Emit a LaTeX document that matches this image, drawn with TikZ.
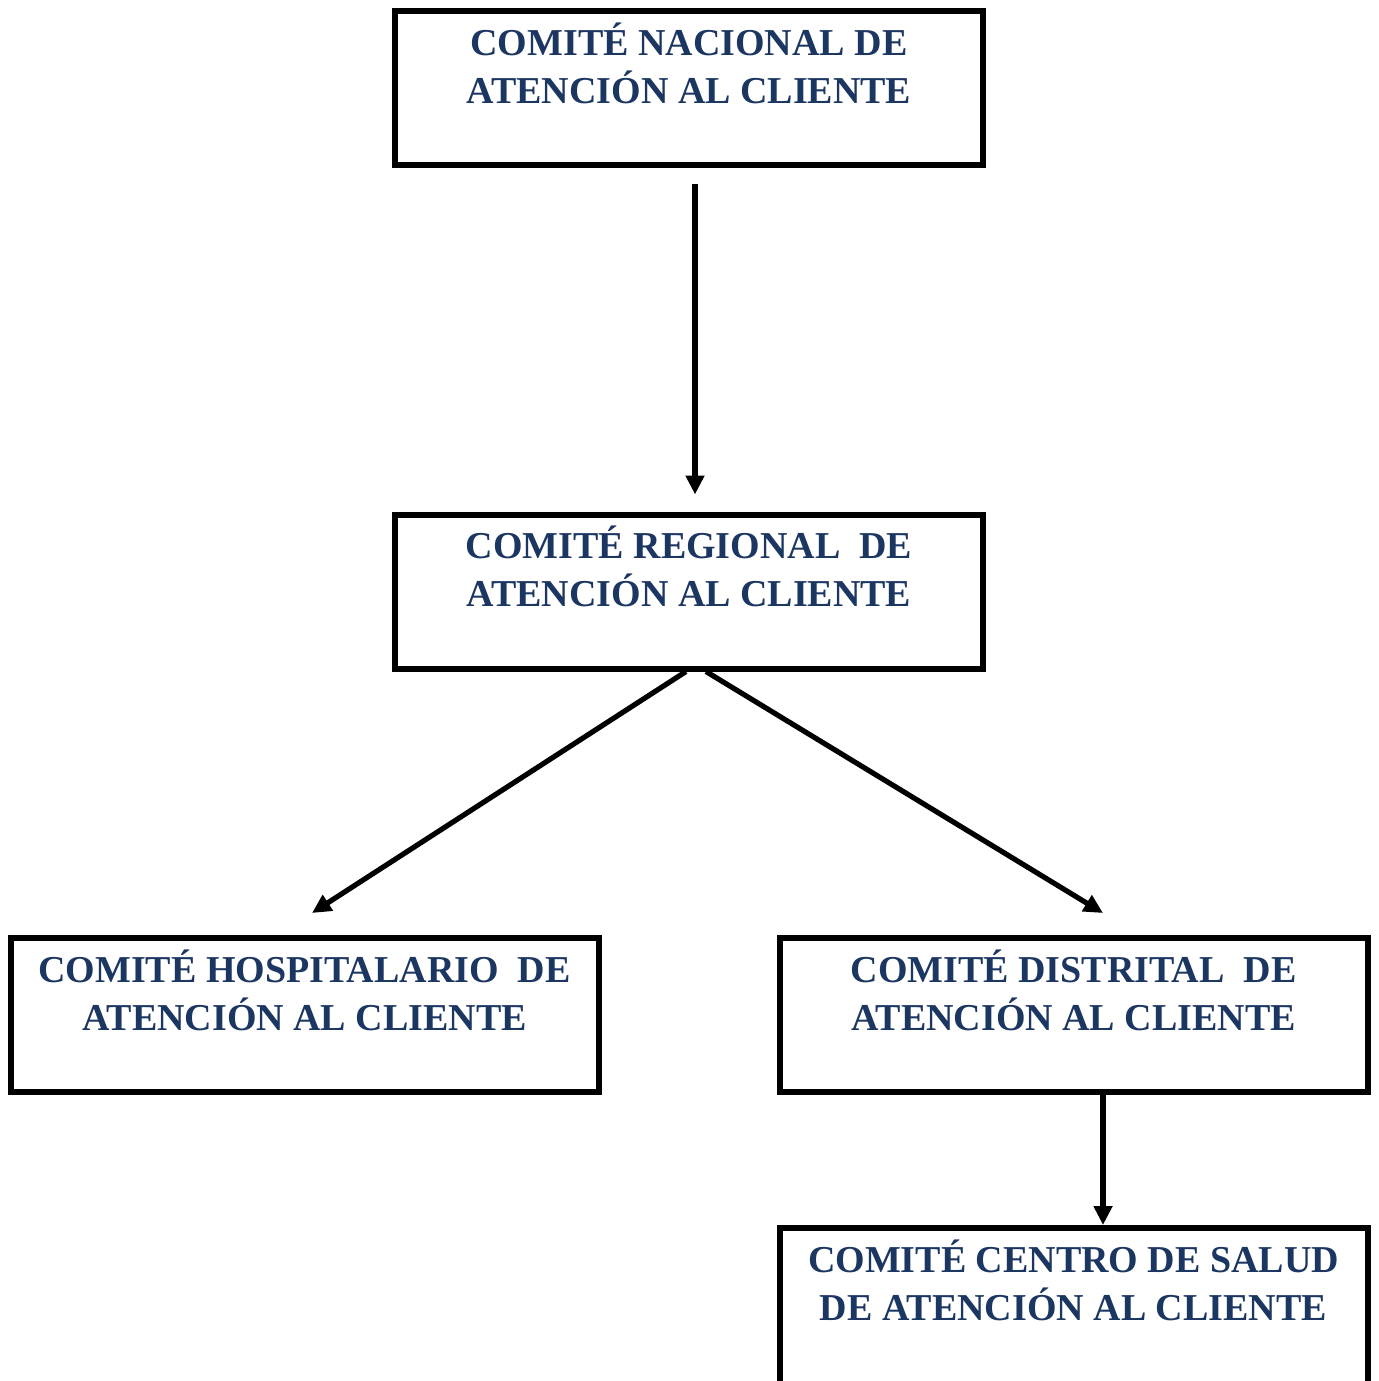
\documentclass[tikz,border=0pt]{standalone}
\usepackage{fontspec}
\setmainfont{Liberation Serif}
\usetikzlibrary{arrows.meta}
\definecolor{navy}{RGB}{28,54,98}
\begin{document}
\begin{tikzpicture}[x=0.5pt,y=-0.5pt,
  box/.style={draw=black, line width=3pt, minimum width=294pt, minimum height=77pt, inner sep=0pt},
  lbl/.style={anchor=base, inner sep=0pt, text=navy, font=\fontsize{19}{24}\selectfont\bfseries},
  conn/.style={line width=2.6pt, -{Triangle[length=9.5pt,width=9pt]}}]
\useasboundingbox (0,0) rectangle (1378,1381);
\begin{scope}
\clip (0,0) rectangle (1378,1381);
\node[box] (nac) at (689,88) {};
\node[box] (reg) at (689,591.5) {};
\node[box] (hosp) at (304.5,1015) {};
\node[box] (dist) at (1073.5,1015) {};
\node[box, minimum height=100pt] (cen) at (1073.5,1328) {};
\end{scope}
\node[lbl] (nacT) at ([yshift=-23.5pt]nac.north) {\begin{tabular}[t]{@{}c@{}}COMITÉ NACIONAL DE\\ATENCIÓN AL CLIENTE\end{tabular}};
\node[lbl] (regT) at ([yshift=-23.5pt]reg.north) {\begin{tabular}[t]{@{}c@{}}COMITÉ REGIONAL\ \ DE\\ATENCIÓN AL CLIENTE\end{tabular}};
\node[lbl] (hospT) at ([yshift=-23.5pt]hosp.north) {\begin{tabular}[t]{@{}c@{}}COMITÉ HOSPITALARIO\ \ DE\\ATENCIÓN AL CLIENTE\end{tabular}};
\node[lbl] (distT) at ([yshift=-23.5pt]dist.north) {\begin{tabular}[t]{@{}c@{}}COMITÉ DISTRITAL\ \ DE\\ATENCIÓN AL CLIENTE\end{tabular}};
\node[lbl] (cenT) at ([yshift=-23.5pt]cen.north) {\begin{tabular}[t]{@{}c@{}}COMITÉ CENTRO DE SALUD\\DE ATENCIÓN AL CLIENTE\end{tabular}};
\draw[conn] ([xshift=3pt,yshift=-8pt]nac.south) -- ([xshift=3pt,yshift=8.5pt]reg.north);
\draw[conn] ([xshift=-1.5pt]reg.south) -- ([xshift=3.75pt,yshift=11pt]hosp.north);
\draw[conn] ([xshift=8.5pt]reg.south) -- ([xshift=14.75pt,yshift=11pt]dist.north);
\draw[conn] ([xshift=14.75pt]dist.south) -- ([xshift=14.75pt]cen.north);
\end{tikzpicture}
\end{document}
